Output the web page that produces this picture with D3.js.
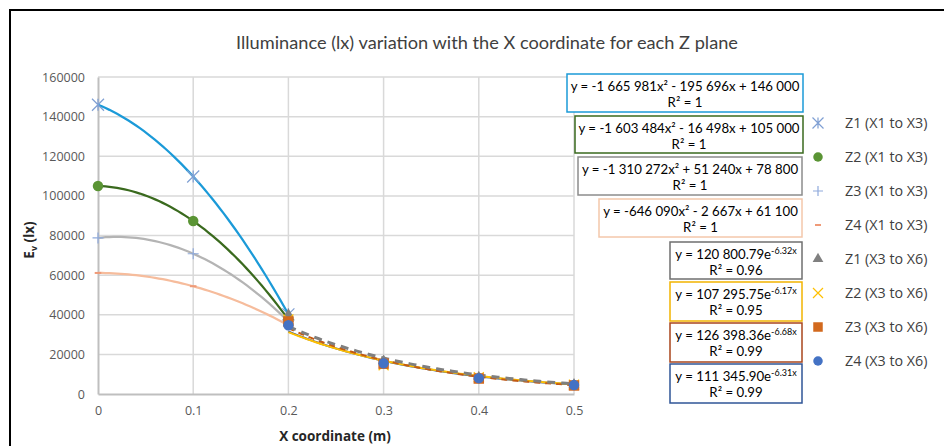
<!DOCTYPE html>
<html>
<head>
<meta charset="utf-8">
<script src="https://cdn.jsdelivr.net/npm/d3@7"></script>
<style>
  body { margin: 0; background: #fff; }
  svg { display: block; }
</style>
</head>
<body>
<div id="chart"></div>
<script>
// x positions of the measurements
const xNear = [0, 0.1, 0.2]
const xFar = [0.2, 0.3, 0.4, 0.5]

// illuminance (lx), X1 to X3
const z1Near = [146000, 109800, 40200]
const z2Near = [105000, 87300, 37600]
const z3Near = [78800, 70800, 36600]
const z4Near = [61100, 54400, 34700]

// illuminance (lx), X3 to X6
const z1Far = [40200, 16800, 8600, 4900]
const z2Far = [37600, 14500, 8500, 4700]
const z3Far = [36600, 15300, 7800, 4300]
const z4Far = [34700, 15500, 8000, 4500]

const seriesNames = [
  "Z1 (X1 to X3)", "Z2 (X1 to X3)", "Z3 (X1 to X3)", "Z4 (X1 to X3)",
  "Z1 (X3 to X6)", "Z2 (X3 to X6)", "Z3 (X3 to X6)", "Z4 (X3 to X6)"
]

// trendline coefficients shown in the labels
const quadFits = [
  [-1665981, -195696, 146000],
  [-1603484, -16498, 105000],
  [-1310272, 51240, 78800],
  [-646090, -2667, 61100]
]
const expFits = [
  [120800.79, -6.32],
  [107295.75, -6.17],
  [126398.36, -6.68],
  [111345.90, -6.31]
]
const quadLabels = [
  "y = -1 665 981x² - 195 696x + 146 000",
  "y = -1 603 484x² - 16 498x + 105 000",
  "y = -1 310 272x² + 51 240x + 78 800",
  "y = -646 090x² - 2 667x + 61 100"
]
const expLabels = ["y = 120 800.79e", "y = 107 295.75e", "y = 126 398.36e", "y = 111 345.90e"]
const expPowers = ["-6.32x", "-6.17x", "-6.68x", "-6.31x"]
const r2Labels = ["R² = 1", "R² = 1", "R² = 1", "R² = 1", "R² = 0.96", "R² = 0.95", "R² = 0.99", "R² = 0.99"]

const xTicks = [0, 0.1, 0.2, 0.3, 0.4, 0.5]
const yTicks = [0, 20000, 40000, 60000, 80000, 100000, 120000, 140000, 160000]

const W = 944, H = 446
const plot = { left: 98, right: 574, top: 77, bottom: 394 }

const markerColors = ["#7f9fd3", "#5a9434", "#8faadc", "#ef9a78", "#808080", "#ffc000", "#d2691e", "#4472c4"]
const trendColors = ["#1b9ad8", "#3a6a1e", "#b4b4b4", "#f6bc9c", "#7f7f7f", "#ffc000", "#c55a11", "#2f5597"]
const boxColors = ["#1b9ad8", "#3a6a1e", "#8c8c8c", "#f4c7ab", "#6f6f6f", "#f2b400", "#a9461c", "#2f5597"]
const boxes = [
  [567, 74, 236, 38], [575, 116, 228, 37], [578, 157, 224, 38], [599, 199, 203, 38],
  [670, 242, 132, 37], [670, 282, 132, 39], [670, 323, 132, 39], [670, 364, 132, 39]
]

const labelFont = "Lato, 'Open Sans', sans-serif"
const tickFont = "'Open Sans', 'Noto Sans', sans-serif"

const svg = d3.select("#chart").append("svg")
  .attr("width", W)
  .attr("height", H)

// chart frame (runs past the photo on the right and bottom)
svg.append("rect")
  .attr("x", 10).attr("y", 10)
  .attr("width", 1000).attr("height", 500)
  .attr("fill", "none")
  .attr("stroke", "#000")
  .attr("stroke-width", 2)

const x = d3.scaleLinear().domain([0, 0.5]).range([plot.left, plot.right])
const y = d3.scaleLinear().domain([0, 160000]).range([plot.bottom, plot.top])

// gridlines
svg.append("g")
  .selectAll("line")
  .data(yTicks.slice(1))
  .join("line")
  .attr("x1", plot.left).attr("x2", plot.right)
  .attr("y1", d => y(d)).attr("y2", d => y(d))
  .style("stroke", "#d9d9d9")
  .style("stroke-width", 1.5)

svg.append("g")
  .selectAll("line")
  .data(xTicks.slice(1))
  .join("line")
  .attr("x1", d => x(d)).attr("x2", d => x(d))
  .attr("y1", plot.top).attr("y2", plot.bottom)
  .style("stroke", "#d9d9d9")
  .style("stroke-width", 1.5)

// axes
const yAxis = svg.append("g")
  .attr("transform", `translate(${plot.left},0)`)
  .call(d3.axisLeft(y).tickValues(yTicks).tickFormat(d3.format("d")).tickSize(0).tickPadding(13))
const xAxis = svg.append("g")
  .attr("transform", `translate(0,${plot.bottom})`)
  .call(d3.axisBottom(x).tickValues(xTicks).tickFormat(d => d === 0 ? "0" : d3.format(".1f")(d)).tickSize(0).tickPadding(12))

;[yAxis, xAxis].forEach(ax => {
  ax.select(".domain").attr("stroke", "#bfbfbf").attr("stroke-width", 2)
  ax.selectAll("text")
    .style("font-family", tickFont)
    .style("font-size", "12.5px")
    .style("fill", "#595959")
})

// fit a text element's font size to a target width
function fitWidth(sel, target) {
  const base = parseFloat(sel.style("font-size"))
  const w = sel.node().getComputedTextLength()
  return base * target / w
}

// titles
const title = svg.append("text")
  .attr("x", 487).attr("y", 49)
  .attr("text-anchor", "middle")
  .style("font-family", labelFont)
  .style("font-size", "16px")
  .style("fill", "#404040")
  .text("Illuminance (lx) variation with the X coordinate for each Z plane")
title.style("font-size", Math.min(fitWidth(title, 506), 18.2) + "px")

svg.append("text")
  .attr("x", 335).attr("y", 441)
  .attr("text-anchor", "middle")
  .style("font-family", tickFont)
  .style("font-size", "13.5px")
  .style("font-weight", "bold")
  .style("fill", "#262626")
  .text("X coordinate (m)")

const yLabel = svg.append("text")
  .attr("transform", "translate(34,240) rotate(-90)")
  .attr("text-anchor", "middle")
  .style("font-family", tickFont)
  .style("font-size", "13.5px")
  .style("font-weight", "bold")
  .style("fill", "#262626")
yLabel.append("tspan").text("E")
yLabel.append("tspan").attr("dy", 3).style("font-size", "9px").text("v")
yLabel.append("tspan").attr("dy", -3).text(" (lx)")

// trendlines
const line = d3.line().x(d => x(d[0])).y(d => y(d[1])).curve(d3.curveLinear)
const sampleNear = d3.range(0, 0.2001, 0.004)
const sampleFar = d3.range(0.2, 0.5001, 0.004)

const trendG = svg.append("g").attr("fill", "none")
quadFits.forEach((c, i) => {
  trendG.append("path")
    .datum(sampleNear.map(t => [t, c[0] * t * t + c[1] * t + c[2]]))
    .attr("d", line)
    .attr("stroke", trendColors[i])
    .attr("stroke-width", 2.25)
})
const farDash = [null, null, "6,5", null]
// draw order: blue, yellow, brown, gray dashed on top
;[3, 1, 2, 0].forEach(i => {
  trendG.append("path")
    .datum(sampleFar.map(t => [t, expFits[i][0] * Math.exp(expFits[i][1] * t)]))
    .attr("d", line)
    .attr("stroke", trendColors[i + 4])
    .attr("stroke-width", i === 0 ? 3 : 2)
    .attr("stroke-dasharray", i === 0 ? "8,6" : farDash[i])
})

// marker shapes
function drawMarker(g, k, size) {
  const c = markerColors[k]
  const s = size / 2
  if (k === 0) {
    g.append("path").attr("d", `M${-s},${-s}L${s},${s}M${-s},${s}L${s},${-s}M0,${-s}L0,${s}`)
      .attr("stroke", c).attr("stroke-width", 1.2).attr("fill", "none")
  } else if (k === 1 || k === 7) {
    g.append("circle").attr("r", s * 0.95).attr("fill", c)
  } else if (k === 2) {
    g.append("path").attr("d", `M${-s},0L${s},0M0,${-s}L0,${s}`)
      .attr("stroke", c).attr("stroke-width", 1.2).attr("fill", "none")
  } else if (k === 3) {
    g.append("path").attr("d", `M${-s * 0.6},0L${s * 0.6},0`)
      .attr("stroke", c).attr("stroke-width", 2).attr("fill", "none")
  } else if (k === 4) {
    g.append("path").attr("d", d3.symbol(d3.symbolTriangle, size * size * 0.5)())
      .attr("fill", c)
  } else if (k === 5) {
    g.append("path").attr("d", `M${-s},${-s}L${s},${s}M${-s},${s}L${s},${-s}`)
      .attr("stroke", c).attr("stroke-width", 1.2).attr("fill", "none")
  } else if (k === 6) {
    g.append("rect").attr("x", -s * 0.95).attr("y", -s * 0.95)
      .attr("width", s * 1.9).attr("height", s * 1.9).attr("fill", c)
  }
}

// data points
const nearSeries = [z1Near, z2Near, z3Near, z4Near]
const farSeries = [z1Far, z2Far, z3Far, z4Far]
const markerSizes = [12, 11, 11, 11, 10, 10, 11, 11]
const pointG = svg.append("g")
nearSeries.forEach((vals, i) => {
  vals.forEach((v, j) => {
    drawMarker(pointG.append("g").attr("transform", `translate(${x(xNear[j])},${y(v)})`), i, markerSizes[i])
  })
})
farSeries.forEach((vals, i) => {
  vals.forEach((v, j) => {
    drawMarker(pointG.append("g").attr("transform", `translate(${x(xFar[j])},${y(v)})`), i + 4, markerSizes[i + 4])
  })
})

// trendline labels
const boxG = svg.append("g")
const eqTexts = []
boxes.forEach((b, i) => {
  const g = boxG.append("g").attr("transform", `translate(${b[0]},${b[1]})`)
  g.append("rect")
    .attr("width", b[2]).attr("height", b[3])
    .attr("fill", "#fff")
    .attr("stroke", boxColors[i])
    .attr("stroke-width", 1.5)
  const t1 = g.append("text")
    .attr("x", b[2] / 2).attr("y", 17)
    .attr("text-anchor", "middle")
    .style("font-family", labelFont)
    .style("font-size", "13px")
    .style("fill", "#000")
  if (i < 4) {
    t1.text(quadLabels[i])
  } else {
    t1.append("tspan").text(expLabels[i - 4])
    t1.append("tspan").attr("class", "sup").attr("dy", -5).style("font-size", "9px").text(expPowers[i - 4])
  }
  const t2 = g.append("text")
    .attr("x", b[2] / 2).attr("y", 33)
    .attr("text-anchor", "middle")
    .style("font-family", labelFont)
    .style("font-size", "13px")
    .style("fill", "#000")
    .text(r2Labels[i])
  eqTexts.push(t1, t2)
})
const eqSize = fitWidth(eqTexts[0], 229)
eqTexts.forEach(t => t.style("font-size", eqSize + "px"))
boxG.selectAll(".sup").style("font-size", (eqSize * 0.68) + "px")

// legend
const legend = svg.append("g").attr("transform", "translate(818,123)")
seriesNames.forEach((name, i) => {
  const row = legend.append("g").attr("transform", `translate(0,${i * 34})`)
  drawMarker(row.append("g"), i, i === 0 ? 11 : 10)
  row.append("text")
    .attr("x", 27).attr("y", 5)
    .style("font-family", tickFont)
    .style("font-size", "14.3px")
    .style("fill", "#404040")
    .text(name)
})
</script>
</body>
</html>
